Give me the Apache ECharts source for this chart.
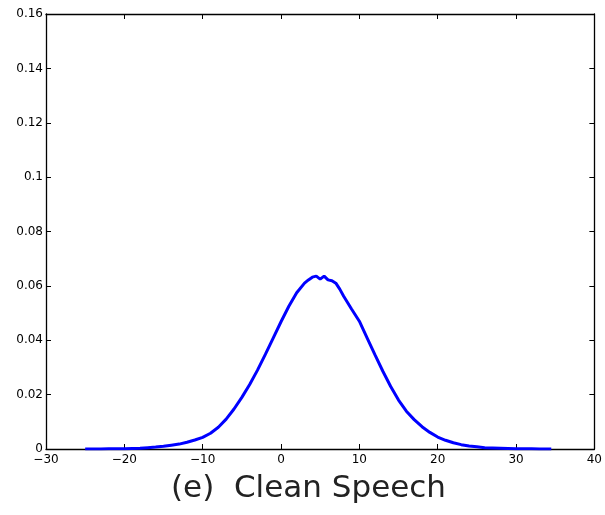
<!DOCTYPE html>
<html>
<head>
<meta charset="utf-8">
<script src="https://cdn.jsdelivr.net/npm/echarts@6/dist/echarts.min.js"></script>
<style>html,body{margin:0;padding:0;background:#fff;}#c{width:605px;height:515px;}</style>
</head>
<body>
<div id="c"></div>
<script>
const xs = [-25,-24,-23,-22,-21,-20,-19,-18,-17,-16,-15,-14,-13,-12,-11,-10,-9,-8,-7,-6,-5,-4,-3,-2,-1,0,1,2,3,3.5,4,4.5,5,5.5,6,6.5,7,7.5,8,9,10,11,12,13,14,15,16,17,18,19,20,21,22,23,24,25,26,27,28,29,30,31,32,33,34.5];
const ys = [0.0000,0.0000,0.0000,0.0001,0.0001,0.0001,0.0002,0.0003,0.0005,0.0007,0.0010,0.0014,0.0018,0.0025,0.0033,0.0043,0.0058,0.0080,0.0110,0.0147,0.0190,0.0237,0.0290,0.0348,0.0408,0.0468,0.0525,0.0575,0.0610,0.0622,0.0632,0.0636,0.0625,0.0636,0.0622,0.0619,0.0610,0.0588,0.0562,0.0515,0.0470,0.0408,0.0346,0.0286,0.0230,0.0180,0.0139,0.0108,0.0082,0.0061,0.0044,0.0032,0.0023,0.0016,0.0011,0.0008,0.0005,0.0004,0.0003,0.0002,0.0001,0.0001,0.0001,0.0000,0.0000];
const xTicks = [-30,-20,-10,0,10,20,30,40];
const yTicks = [0,0.02,0.04,0.06,0.08,0.1,0.12,0.14,0.16];
const titleText = '(e)  Clean Speech';

const data = xs.map((x,i)=>[x,ys[i]]);
const chart = echarts.init(document.getElementById('c'));
const tickStyle = {show:true, inside:true, length:5, lineStyle:{color:'#000', width:1}};
const lineStyle = {show:true, onZero:false, lineStyle:{color:'#000', width:1.3}};
const fmtX = v => String(v).replace('-', '\u2212');
chart.setOption({
  animation:false,
  backgroundColor:'#fff',
  grid:{left:46, right:7, top:14, bottom:66},
  title:{text:titleText, left:166, top:468, textStyle:{fontFamily:'DejaVu Sans', fontSize:31, fontWeight:'normal', color:'#222'}},
  xAxis:[
    {type:'value', min:-30, max:40, interval:10, position:'bottom', axisLine:lineStyle, axisTick:tickStyle, splitLine:{show:false},
     axisLabel:{color:'#000', fontFamily:'DejaVu Sans', fontSize:12, margin:5, formatter:fmtX}},
    {type:'value', min:-30, max:40, interval:10, position:'top', axisLine:lineStyle, axisTick:tickStyle, splitLine:{show:false}, axisLabel:{show:false}}
  ],
  yAxis:[
    {type:'value', min:0, max:0.16, interval:0.02, position:'left', axisLine:lineStyle, axisTick:tickStyle, splitLine:{show:false},
     axisLabel:{color:'#000', fontFamily:'DejaVu Sans', fontSize:12, margin:3, formatter:v=>String(+v.toFixed(2))}},
    {type:'value', min:0, max:0.16, interval:0.02, position:'right', axisLine:lineStyle, axisTick:tickStyle, splitLine:{show:false}, axisLabel:{show:false}}
  ],
  series:[{type:'line', data:data, showSymbol:false, symbol:'none', smooth:false,
    lineStyle:{color:'#0000ff', width:3}, xAxisIndex:0, yAxisIndex:0}]
});
</script>
</body>
</html>
